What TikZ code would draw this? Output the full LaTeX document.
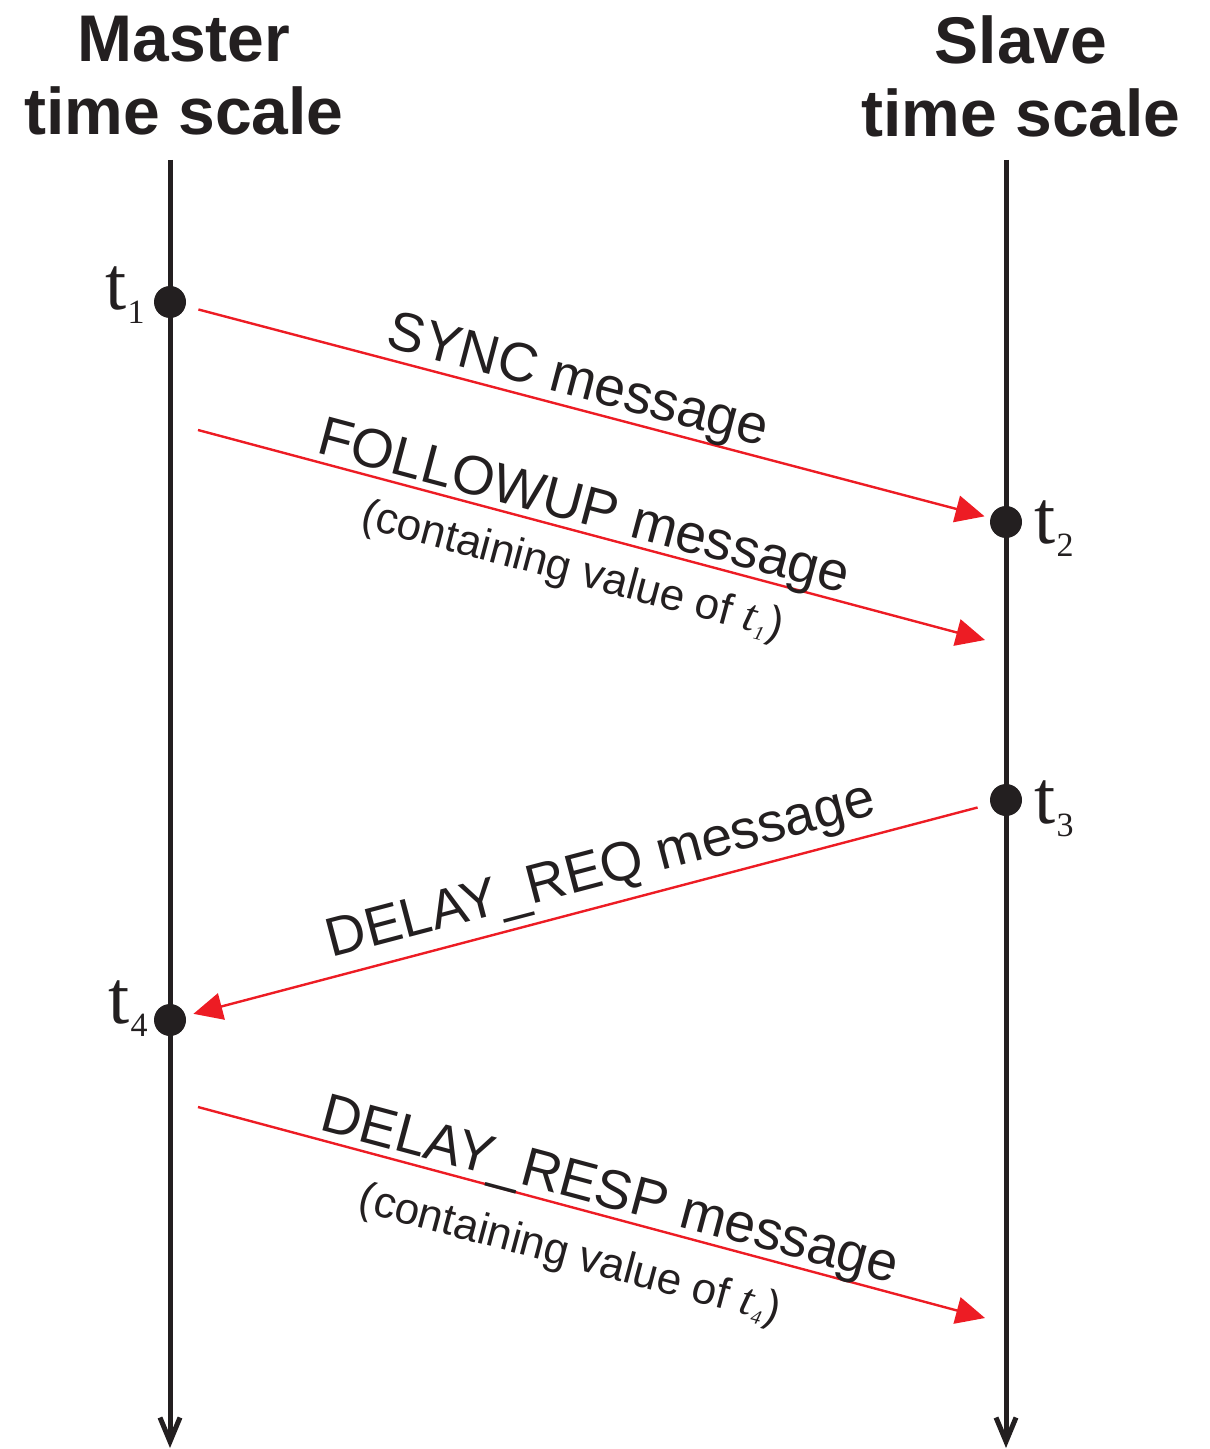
\documentclass[tikz,border=0pt]{standalone}
\usepackage{fontspec}
\setmainfont{Liberation Sans}
\newfontfamily\timesfont{Liberation Serif}
\usepackage{tikz}
\usetikzlibrary{arrows.meta,positioning,calc}
\definecolor{axisblack}{HTML}{231F20}
\definecolor{msgred}{HTML}{ED1C24}
\newcommand{\tstamp}[1]{{\timesfont\fontsize{38}{38}\selectfont t\kern0.5pt\raisebox{-6.5pt}{\fontsize{17}{17}\selectfont #1}}}
\newcommand{\tval}[1]{{\timesfont\itshape\fontsize{23}{23}\selectfont t\kern0.8pt\raisebox{-3pt}{\fontsize{10}{10}\selectfont #1}\kern0.8pt}}
\tikzset{
  timeline/.style={draw=axisblack,line width=2.5pt,-{Straight Barb[length=12pt,width=10pt]}},
  msg/.style={draw=msgred,line width=1.2pt,-{Triangle[length=14.5pt,width=13.5pt]}},
  stampdot/.style={circle,fill=axisblack,minimum size=16pt,inner sep=0pt},
  head/.style={font=\fontsize{33}{36.5}\selectfont\bfseries,align=center,text=axisblack},
}

\begin{document}
\begin{tikzpicture}[x=0.5pt,y=-0.5pt,
  mlab/.style={sloped,font=\fontsize{27.5}{30}\selectfont,text=axisblack,inner sep=0pt,text depth=0pt},
  clab/.style={sloped,font=\fontsize{22}{26}\selectfont,text=axisblack,inner sep=0pt},
  tlab/.style={text=axisblack,inner sep=0pt}]
  \useasboundingbox (0,0) rectangle (1209,1449);
  % headings
  \node[head] (mhead) at (184,76) {Master\\time scale};
  \node[head] (shead) at (1021,76) {Slave\\time scale};
  % time scales
  \foreach \x/\n in {170/m,1006/s} {
    \coordinate (\n top) at (\x,160);
    \coordinate (\n bot) at (\x,1448);
    \draw[timeline] (\n top) -- (\n bot);
  }
  \foreach \n/\x/\y in {t1/170/302,t2/1006/522,t3/1006/800,t4/170/1020}
    \node[stampdot] (\n) at (\x,\y) {};
  \node[tlab,anchor=base east] (l1) at (145,310) {\tstamp{1}};
  \node[tlab,anchor=base west] (l2) at (1034,543) {\tstamp{2}};
  \node[tlab,anchor=base west] (l3) at (1034,823) {\tstamp{3}};
  \node[tlab,anchor=base east] (l4) at (148,1023) {\tstamp{4}};
  % messages
  \coordinate (fstart) at (198,430);
  \coordinate (fend) at (985,640);
  \coordinate (rstart) at (198,1107);
  \coordinate (rend) at (985,1318);
  \draw[msg,shorten <=6.5pt,shorten >=2.9pt] (t1) -- node[mlab,above=5pt,pos=0.479] {SYNC message} (t2);
  \draw[msg] (fstart) -- node[mlab,above=3.5pt,pos=0.482] {FOLLOWUP message}
    node[clab,below=9.5pt,pos=0.489] {(containing value of \tval{1})} (fend);
  \draw[msg,shorten <=6.5pt,shorten >=3.9pt] (t3) -- node[mlab,above=9pt,pos=0.473] {DELAY\_REQ message} (t4);
  \draw[msg] (rstart) -- node[mlab,above=4pt,pos=0.515] {DELAY\_RESP message}
    node[clab,below=13pt,pos=0.488] {(containing value of \tval{4})} (rend);
\end{tikzpicture}
\end{document}
